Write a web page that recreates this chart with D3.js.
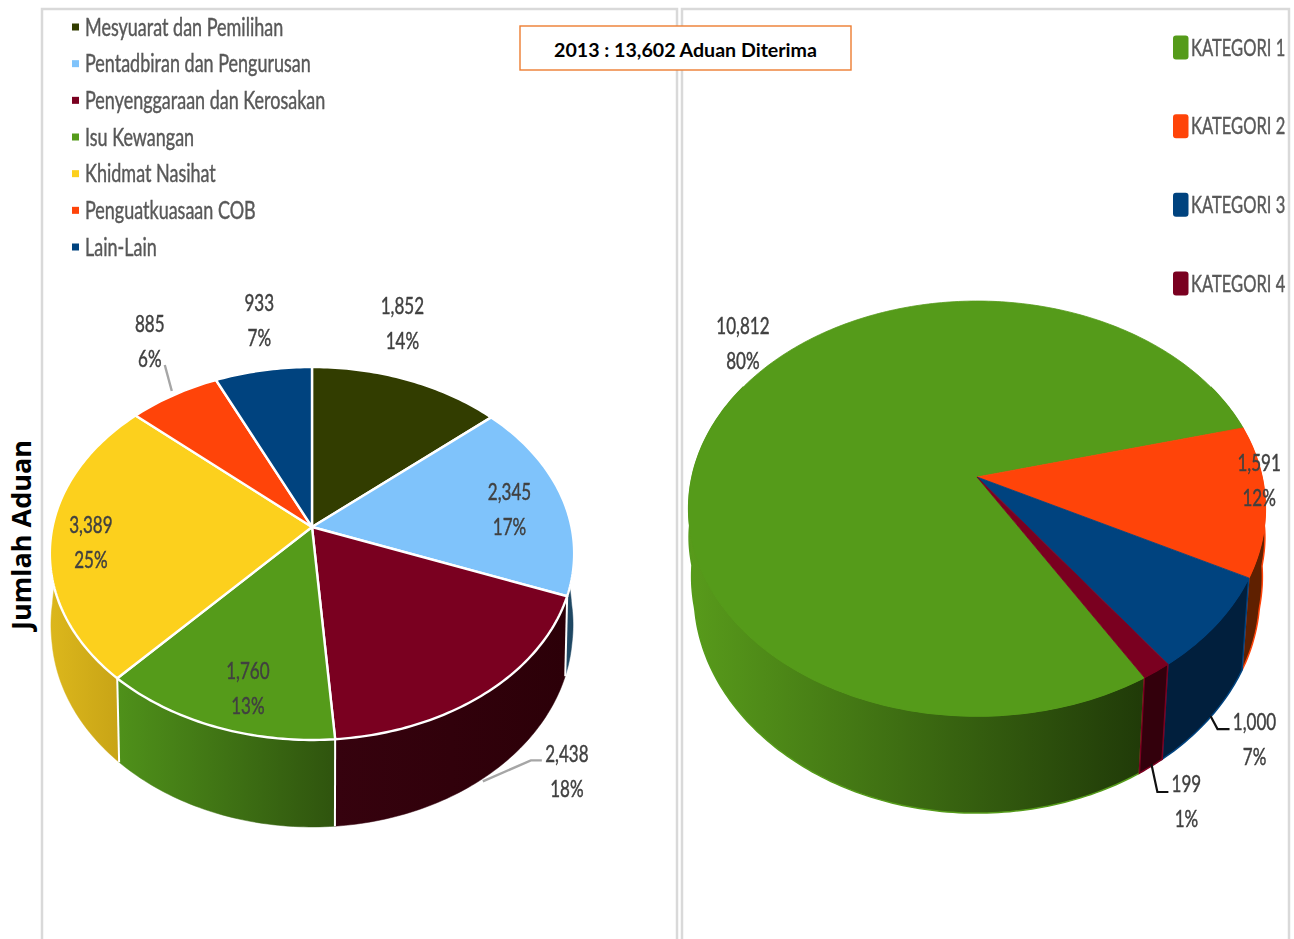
<!DOCTYPE html>
<html><head><meta charset="utf-8">
<script src="https://cdn.jsdelivr.net/npm/d3@7"></script>
<style>html,body{margin:0;padding:0;background:#fff;overflow:hidden}svg{display:block}</style>
</head><body><svg id="c" width="1294" height="939"></svg>
<script>
// ---- data ----
const leftCategories = ["Mesyuarat dan Pemilihan","Pentadbiran dan Pengurusan","Penyenggaraan dan Kerosakan","Isu Kewangan","Khidmat Nasihat","Penguatkuasaan COB","Lain-Lain"];
const leftValues = [1852,2345,2438,1760,3389,885,933];
const leftPercents = ["14%","17%","18%","13%","25%","6%","7%"];
const leftColors = ["#323d00","#7fc3fb","#7a0020","#559b1a","#fcd01d","#ff4409","#00437f"];
const leftWallColors = [["#1c2200","#1c2200"],["#2f6488","#1d4560"],["#36020e","#2c0008"],["#4f911a","#2f540e"],["#dcb71c","#c8a416"],["#8a2a05","#8a2a05"],["#00254a","#00254a"]];
const rightCategories = ["KATEGORI 1","KATEGORI 2","KATEGORI 3","KATEGORI 4"];
const rightValues = [10812,1591,1000,199];
const rightPercents = ["80%","12%","7%","1%"];
const rightColors = ["#559b1a","#ff4409","#00437f","#7a0020"];
const rightWallColors = [["#589b1b","#203a08"],["#5f2000","#5f2000"],["#011f3d","#011f3d"],["#33000c","#33000c"]];
const titleText = "2013 : 13,602 Aduan Diterima";
const yAxisTitle = "Jumlah Aduan";

// ---- layout ----
const svg = d3.select("#c"), defs = svg.append("defs");
const rad = d => d*Math.PI/180;
const FONT = "Lato";
defs.append("filter").attr("id","soft").attr("x","-5%").attr("y","-20%").attr("width","110%").attr("height","140%")
  .append("feGaussianBlur").attr("stdDeviation",.35);

function scaledText(g, str, x, y, o){
  return g.append("text").attr("transform",`translate(${x},${y}) scale(${o.sx},1)`)
    .attr("text-anchor",o.anchor||"start").attr("dominant-baseline","central")
    .attr("font-family",o.font||FONT).attr("font-size",o.size).attr("font-weight",o.weight||400)
    .attr("fill",o.fill).attr("stroke",o.thick?o.fill:"none").attr("stroke-width",o.thick||0)
    .attr("filter",o.thick?"url(#soft)":null).text(str);
}

// panel frames
svg.append("path").attr("fill","none").attr("stroke","#d9d9d9").attr("stroke-width",2.5)
  .attr("d","M42,939V9H677V939M682,939V9H1289V939");

function pie3d(cfg){
  const g = svg.append("g");
  const sx = d3.scaleLinear().domain([-1,1]).range([cfg.cx-cfg.rx,cfg.cx+cfg.rx]);
  const sy = d3.scaleLinear().domain([-1,1]).range([cfg.cy-cfg.ry,cfg.cy+cfg.ry]);
  const shrink = d3.scaleLinear().domain([-.2,0,.2,.8]).range([1+(1-cfg.s)*2,1,1-(1-cfg.s)*2/3,cfg.s]).clamp(true);
  const top = (a,k=1)=>{const u=k*Math.sin(a),v=-k*Math.cos(a),w=1-cfg.p*v;return [sx(u/w),sy(v/w)];};
  const bot = a=>{const u=Math.sin(a),v=-Math.cos(a),w=1-cfg.p*v;
    return [sx(shrink(v)*u/w),cfg.cy+(cfg.ry*cfg.s*v+cfg.depth)/w];};
  const line = d3.line();
  const arcs = d3.pie().sort(null).startAngle(cfg.start).endAngle(cfg.start+2*Math.PI)(cfg.values);
  const samp = (a0,a1)=>{const n=Math.max(2,Math.ceil((a1-a0)/rad(1)));return d3.range(n+1).map(i=>a0+(a1-a0)*i/n);};
  const norm = a=>((a%(2*Math.PI))+2*Math.PI)%(2*Math.PI);
  const vis0=rad(62), vis1=rad(298);

  // walls
  arcs.forEach((d,i)=>{
    const a=norm(d.startAngle); let b=a+(d.endAngle-d.startAngle);
    const segs=[[a,b],[a-2*Math.PI,b-2*Math.PI],[a+2*Math.PI,b+2*Math.PI]];
    segs.forEach((sg,si)=>{
      const a0=Math.max(sg[0],vis0),a1=Math.min(sg[1],vis1);
      if(a1<=a0) return;
      const A=samp(a0,a1);
      const pts=A.map(x=>top(x)).concat(A.slice().reverse().map(x=>bot(x)));
      const xs=pts.map(p=>p[0]);
      const id=`${cfg.id}w${i}_${si}`;
      const lg=defs.append("linearGradient").attr("id",id).attr("gradientUnits","userSpaceOnUse")
        .attr("x1",d3.min(xs)).attr("x2",d3.max(xs)).attr("y1",0).attr("y2",0);
      const c=cfg.wall[i];
      lg.append("stop").attr("offset",0).attr("stop-color",c[0]);
      lg.append("stop").attr("offset",1).attr("stop-color",c[1]);
      const p=g.append("path").attr("d",line(pts)+"Z").attr("fill",`url(#${id})`);
      if(cfg.wallEdge){ p.attr("stroke",cfg.colors[i]).attr("stroke-width",1.5); }
      else { p.attr("stroke",`url(#${id})`).attr("stroke-width",.5); }
    });
  });
  // white separators on walls
  if(cfg.separator){
    arcs.forEach(d=>{
      const a=norm(d.startAngle);
      if(a>vis0+0.5&&a<vis1-0.5) g.append("path").attr("d",line([top(a),bot(a)]))
        .attr("stroke","#fff").attr("stroke-width",2).attr("fill","none");
    });
  }
  // faces
  arcs.forEach((d,i)=>{
    const pts=[top(0,0)].concat(samp(d.startAngle,d.endAngle).map(x=>top(x)));
    g.append("path").attr("d",line(pts)+"Z").attr("fill",cfg.colors[i])
      .attr("stroke",cfg.separator?"#fff":cfg.colors[i]).attr("stroke-width",cfg.separator?2.4:.8)
      .attr("stroke-linejoin","round");
  });
  // labels
  arcs.forEach((d,i)=>{
    const m=top((d.startAngle+d.endAngle)/2);
    const c=[m[0]+cfg.labelOffsets[i][0],m[1]+cfg.labelOffsets[i][1]];
    if(cfg.leaders[i]) g.append("path").attr("fill","none").attr("stroke",cfg.leaderColor).attr("stroke-width",cfg.leaderWidth)
      .attr("d",line(cfg.leaders[i].map(q=>[c[0]+q[0],c[1]+q[1]])));
    scaledText(g,d3.format(",")(d.value),c[0],c[1]-18,{sx:.71,size:24,anchor:"middle",fill:"#404040",thick:.45});
    scaledText(g,cfg.percents[i],c[0],c[1]+17,{sx:.71,size:24,anchor:"middle",fill:"#404040",thick:.45});
  });
}

pie3d({id:"L",cx:312,cy:527,rx:259.5,ry:182.7,p:.142,s:.99,depth:76.5,start:0,values:leftValues,
  colors:leftColors,wall:leftWallColors,percents:leftPercents,separator:true,wallEdge:false,
  labelOffsets:[[-5,-58],[-52,12],[80,78],[33,-39],[40,5],[-24,-55],[-4,-51]],
  leaders:[null,null,[[-84,11],[-36,-10],[-25,-10]],null,null,[[15,25],[22,51]],null],
  leaderColor:"#a6a6a6",leaderWidth:2.4});
pie3d({id:"R",cx:977,cy:477,rx:285,ry:202.7,p:.152,s:.97,depth:88.4,start:rad(-210.7),values:rightValues,
  colors:rightColors,wall:rightWallColors,percents:rightPercents,separator:false,wallEdge:true,
  labelOffsets:[[15,-62],[-6,-21],[38,114],[30,129]],
  leaders:[null,null,[[-44,-22],[-37,-9],[-25,-9]],[[-35,-36],[-29,-8],[-18,-8]]],
  leaderColor:"#111",leaderWidth:2.2});

// left legend
const legL=svg.append("g");
const legLy=d3.scalePoint().domain(leftCategories).range([26.5,246.5]);
leftCategories.forEach((c,i)=>{
  legL.append("rect").attr("x",72).attr("y",legLy(c)-3).attr("width",7).attr("height",7).attr("fill",leftColors[i]);
  scaledText(legL,c,85,legLy(c),{sx:.72,size:25,fill:"#595959",thick:.45});
});
// right legend
const legR=svg.append("g");
const legRy=d3.scalePoint().domain(rightCategories).range([46.5,282.5]);
rightCategories.forEach((c,i)=>{
  legR.append("rect").attr("x",1173).attr("y",legRy(c)-11).attr("width",15.5).attr("height",24).attr("rx",3).attr("fill",rightColors[i]);
  scaledText(legR,c,1191,legRy(c),{sx:.69,size:24,fill:"#595959",thick:.45});
});
// title box
svg.append("rect").attr("x",520).attr("y",26).attr("width",331).attr("height",44).attr("fill","#fff").attr("stroke","#ed7d31").attr("stroke-width",1.4);
scaledText(svg,titleText,685.5,49.5,{sx:1,size:19.6,weight:700,anchor:"middle",fill:"#000"});
// y axis title
svg.append("text").attr("transform","translate(20,535) rotate(-90)").attr("text-anchor","middle").attr("dominant-baseline","central")
  .attr("font-family","Open Sans").attr("font-weight",700).attr("font-size",27).attr("fill","#000").text(yAxisTitle);
</script></body></html>
